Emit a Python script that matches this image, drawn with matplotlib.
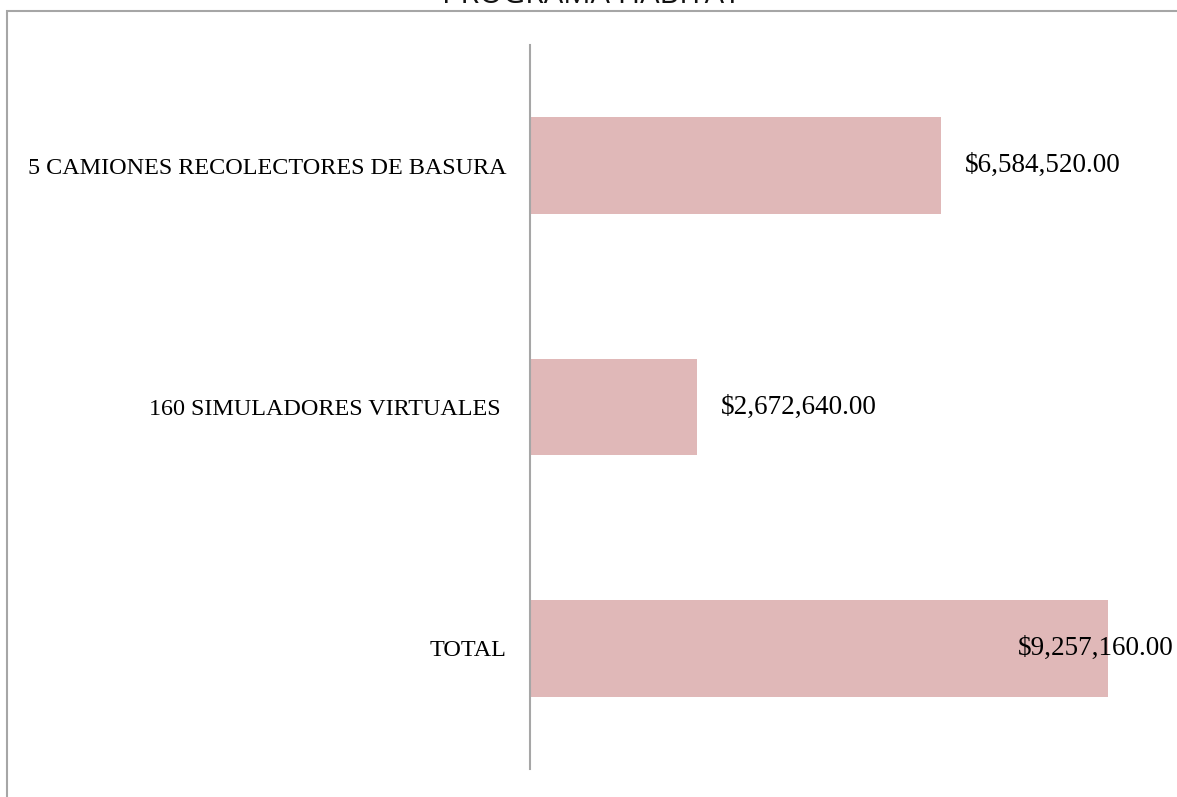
import matplotlib
matplotlib.use("Agg")
import matplotlib.pyplot as plt
from matplotlib.patches import Rectangle

# chart data
categories = ["5 CAMIONES RECOLECTORES DE BASURA", "160 SIMULADORES VIRTUALES ", "TOTAL"]
amounts = [6584520.00, 2672640.00, 9257160.00]
title = "PROGRAMA HABITAT"

W, H = 1177, 797
fig = plt.figure(figsize=(W / 100, H / 100), dpi=100)

# outer chart frame (cut off on the right and bottom in the reference)
fig.patches.append(Rectangle((7 / W, -0.05), 1.1, 1 - 11 / H + 0.05,
                             transform=fig.transFigure, fill=False,
                             edgecolor="#a6a6a6", linewidth=1.5))

ax = fig.add_axes([530 / W, 1 - 769 / H, (W - 530) / W, (769 - 45) / H])
ypos = list(range(len(categories)))
ax.barh(ypos, amounts, height=0.4, color="#e0b8b8")
ax.set_ylim(len(categories) - 0.5, -0.5)
px_per_unit = (1108 - 530) / max(amounts)
ax.set_xlim(0, (W - 530) / px_per_unit)

for s in ["top", "right", "bottom"]:
    ax.spines[s].set_visible(False)
ax.spines["left"].set_color("#a6a6a6")
ax.spines["left"].set_linewidth(1.5)
ax.set_xticks([])
ax.set_yticks(ypos)
ax.set_yticklabels(categories, family="Liberation Serif", fontsize=17.4)
ax.tick_params(axis="y", length=0, pad=17)

for y, v in zip(ypos, amounts):
    label = f"${v:,.2f}"
    # the longest bar has no room, so its label is pulled back over the bar
    off = -90 if v == max(amounts) else 24
    ax.annotate(label, (v, y), xytext=(off, 0), textcoords="offset pixels",
                va="center", ha="left", family="Liberation Serif", fontsize=19.5,
                annotation_clip=False)

fig.text(591 / W, 1 - 3 / H, title, ha="center", va="baseline",
         family="Open Sans", fontsize=22, color="#111111")

fig.savefig("out.png", dpi=100)
